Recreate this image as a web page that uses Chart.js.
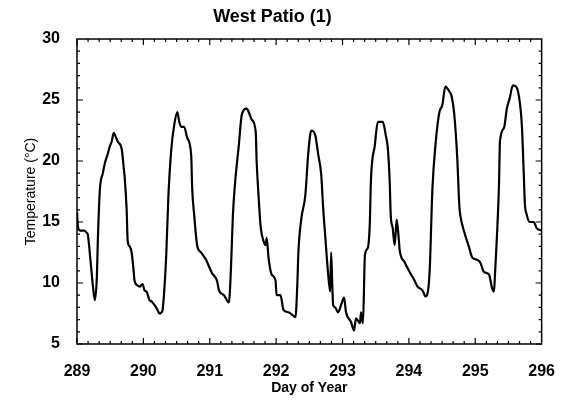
<!DOCTYPE html>
<html>
<head>
<meta charset="utf-8">
<title>West Patio (1)</title>
<script src="https://cdn.jsdelivr.net/npm/chart.js@4/dist/chart.umd.min.js"></script>
<style>
  html, body { margin: 0; padding: 0; background: #fff; }
  #wrap { width: 565px; height: 401px; }
</style>
</head>
<body>
<div id="wrap"><canvas id="chart-temp"></canvas></div>
<script>
// ── Data
const titleText = 'West Patio (1)';
const xTitle = 'Day of Year';
const yTitle = 'Temperature (°C)';

const xTicks = [289, 290, 291, 292, 293, 294, 295, 296];
const yTicks = [5, 10, 15, 20, 25, 30];

const day = [
  289.000, 289.015, 289.045, 289.105, 289.150, 289.165, 289.209, 289.239, 289.269, 289.299,
  289.314, 289.344, 289.389, 289.419, 289.464, 289.494, 289.523, 289.553, 289.583, 289.613,
  289.673, 289.703, 289.718, 289.748, 289.763, 289.793, 289.823, 289.853, 289.867, 289.912,
  289.942, 289.987, 290.017, 290.047, 290.092, 290.122, 290.167, 290.212, 290.241, 290.286,
  290.316, 290.346, 290.376, 290.421, 290.466, 290.511, 290.541, 290.570, 290.615, 290.660,
  290.720, 290.735, 290.765, 290.810, 290.870, 290.944, 291.034, 291.109, 291.139, 291.214,
  291.288, 291.318, 291.348, 291.378, 291.438, 291.483, 291.558, 291.588, 291.632, 291.692,
  291.707, 291.737, 291.767, 291.812, 291.842, 291.857, 291.887, 291.932, 291.991, 292.006,
  292.066, 292.111, 292.186, 292.261, 292.291, 292.320, 292.335, 292.380, 292.440, 292.485,
  292.530, 292.590, 292.635, 292.679, 292.709, 292.739, 292.784, 292.814, 292.829, 292.844,
  292.859, 292.889, 292.934, 292.979, 293.023, 293.053, 293.128, 293.173, 293.203, 293.263,
  293.278, 293.308, 293.338, 293.382, 293.412, 293.427, 293.487, 293.532, 293.607, 293.652,
  293.682, 293.711, 293.726, 293.756, 293.786, 293.816, 293.846, 293.861, 293.936, 294.011,
  294.085, 294.130, 294.205, 294.250, 294.310, 294.355, 294.400, 294.459, 294.504, 294.549,
  294.609, 294.639, 294.684, 294.729, 294.759, 294.773, 294.833, 294.908, 294.953, 295.028,
  295.073, 295.132, 295.207, 295.252, 295.282, 295.297, 295.327, 295.357, 295.372, 295.432,
  295.476, 295.521, 295.566, 295.626, 295.671, 295.701, 295.731, 295.746, 295.776, 295.821,
  295.880, 295.925, 296.000
];

const temp = [
  15.8, 14.6, 14.3, 14.3, 14.1, 13.9, 11.5, 9.8, 8.6, 10.5,
  13.5, 17.6, 19.0, 19.8, 20.6, 21.2, 21.6, 22.3, 22.0, 21.6,
  21.0, 19.5, 18.7, 16.0, 13.5, 13.0, 12.5, 11.0, 10.2, 9.8,
  9.7, 9.9, 9.4, 9.3, 8.6, 8.5, 8.2, 7.8, 7.5, 7.7,
  9.5, 12.5, 17.0, 21.0, 23.0, 24.0, 23.2, 22.8, 22.8, 21.9,
  20.5, 17.8, 15.6, 13.1, 12.5, 11.9, 10.8, 10.2, 9.4, 9.0,
  8.4, 11.0, 15.5, 18.0, 21.3, 23.8, 24.3, 24.0, 23.4, 22.4,
  19.9, 17.0, 14.6, 13.4, 13.1, 13.7, 12.0, 10.7, 10.2, 9.0,
  9.0, 7.8, 7.6, 7.3, 7.2, 10.0, 12.5, 15.3, 17.2, 20.7,
  22.5, 22.1, 20.5, 18.9, 16.1, 13.9, 10.7, 9.3, 12.5, 10.1,
  8.2, 8.0, 7.6, 8.2, 8.8, 7.6, 6.8, 6.1, 7.1, 6.7,
  7.6, 6.7, 12.3, 12.9, 15.0, 18.3, 21.3, 23.2, 23.2, 22.1,
  21.1, 18.3, 15.6, 14.5, 13.1, 15.2, 13.7, 12.7, 11.7, 10.9,
  10.2, 9.7, 9.4, 8.9, 10.7, 17.8, 21.3, 24.0, 24.6, 26.1,
  25.7, 25.4, 23.8, 20.2, 16.4, 15.6, 14.2, 12.9, 12.1, 11.9,
  11.7, 10.9, 10.7, 9.6, 9.3, 10.7, 13.9, 18.0, 21.6, 22.7,
  24.3, 25.2, 26.2, 26.0, 24.8, 23.0, 18.9, 16.6, 15.6, 15.0,
  15.0, 14.5, 14.3
];

// ── Frame with inward major/minor ticks on all four sides
const frameTicks = {
  id: 'frameTicks',
  afterDraw(chart) {
    const { ctx, chartArea: a, scales: { x, y } } = chart;
    ctx.save();
    ctx.strokeStyle = '#000';
    ctx.lineWidth = 1.5;
    ctx.strokeRect(a.left, a.top, a.right - a.left, a.bottom - a.top);
    ctx.lineWidth = 1.2;
    ctx.beginPath();
    for (let i = 0; i < xTicks.length - 1; i++) {
      for (let k = 0; k < 6; k++) {
        const px = x.getPixelForValue(xTicks[i] + k / 6);
        const len = k === 0 ? 6 : 3;
        ctx.moveTo(px, a.bottom); ctx.lineTo(px, a.bottom - len);
        ctx.moveTo(px, a.top); ctx.lineTo(px, a.top + len);
      }
    }
    for (let i = 0; i < yTicks.length - 1; i++) {
      for (let k = 0; k < 5; k++) {
        const py = y.getPixelForValue(yTicks[i] + k);
        const len = k === 0 ? 6 : 3;
        ctx.moveTo(a.left, py); ctx.lineTo(a.left + len, py);
        ctx.moveTo(a.right, py); ctx.lineTo(a.right - len, py);
      }
    }
    ctx.stroke();
    ctx.restore();
  }
};

new Chart(document.getElementById('chart-temp'), {
  type: 'line',
  data: {
    datasets: [{
      data: day.map((d, i) => ({ x: d, y: temp[i] })),
      borderColor: '#000',
      borderWidth: 2.2,
      pointRadius: 0,
      cubicInterpolationMode: 'monotone',
      fill: false,
    }]
  },
  options: {
    responsive: true,
    maintainAspectRatio: false,
    animation: false,
    layout: { padding: { left: 0, right: 20, top: 0, bottom: 0 } },
    plugins: {
      legend: { display: false },
      tooltip: { enabled: false },
      title: {
        display: true, text: titleText, color: '#000',
        font: { family: 'Liberation Sans', size: 18, weight: 'bold' },
        padding: { top: 6, bottom: 11.4 },
      },
    },
    scales: {
      x: {
        type: 'linear', min: 289, max: 296,
        afterBuildTicks: s => { s.ticks = xTicks.map(v => ({ value: v })); },
        afterFit: s => { s.height = 57; },
        grid: { display: false },
        border: { display: false },
        ticks: { color: '#000', padding: 10, maxRotation: 0, font: { family: 'Liberation Sans', size: 16, weight: 'bold' } },
        title: { display: true, text: xTitle, color: '#000', padding: { bottom: 4 }, font: { family: 'Liberation Sans', size: 14, weight: 'bold' } },
      },
      y: {
        type: 'linear', min: 5, max: 30,
        afterBuildTicks: s => { s.ticks = yTicks.map(v => ({ value: v })); },
        afterFit: s => { s.width = 77; },
        grid: { display: false },
        border: { display: false },
        ticks: { color: '#000', padding: 9, font: { family: 'Liberation Sans', size: 16, weight: 'bold' } },
        title: { display: true, text: yTitle, color: '#000', padding: { top: 23 }, font: { family: 'Liberation Sans', size: 14 } },
      },
    }
  },
  plugins: [frameTicks]
});
</script>
</body>
</html>
